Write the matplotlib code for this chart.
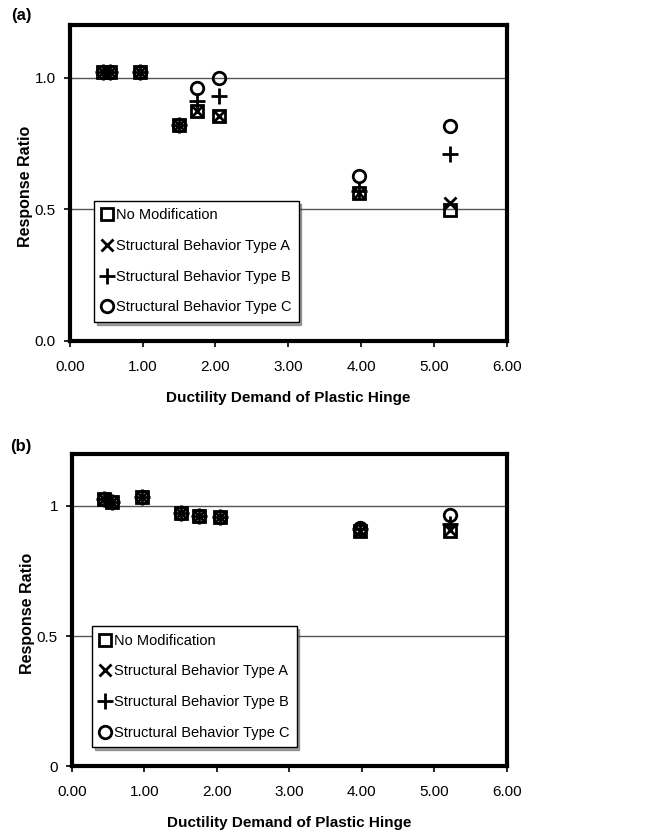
import matplotlib
matplotlib.use('Agg')
import matplotlib.pyplot as plt

plt.rcParams['font.family'] = ['Liberation Sans', 'DejaVu Sans']

# ductility demand at each analysed hinge
ductility = [0.45, 0.55, 0.97, 1.50, 1.75, 2.05, 3.97, 5.22]

# (a) response ratios
a_none = [1.02, 1.02, 1.02, 0.82, 0.875, 0.855, 0.56, 0.495]
a_type_a = [1.02, 1.02, 1.02, 0.82, 0.875, 0.855, 0.56, 0.525]
a_type_b = [1.02, 1.02, 1.02, 0.82, 0.91, 0.93, 0.57, 0.71]
a_type_c = [1.02, 1.02, 1.02, 0.82, 0.96, 1.00, 0.625, 0.815]

# (b) response ratios
b_none = [1.026, 1.017, 1.033, 0.974, 0.963, 0.959, 0.905, 0.903]
b_type_a = [1.026, 1.017, 1.033, 0.974, 0.963, 0.959, 0.905, 0.907]
b_type_b = [1.026, 1.017, 1.033, 0.974, 0.963, 0.959, 0.91, 0.93]
b_type_c = [1.026, 1.017, 1.033, 0.974, 0.963, 0.959, 0.915, 0.965]

labels = ['No Modification', 'Structural Behavior Type A',
          'Structural Behavior Type B', 'Structural Behavior Type C']
markers = ['s', 'x', '+', 'o']
sizes = [9, 9, 11, 9]

x_ticks = [0, 1, 2, 3, 4, 5, 6]
x_ticklabels = ['0.00', '1.00', '2.00', '3.00', '4.00', '5.00', '6.00']
y_ticks = [0, 0.5, 1.0]
a_yticklabels = ['0.0', '0.5', '1.0']
b_yticklabels = ['0', '0.5', '1']

fig = plt.figure(figsize=(6.59, 8.35), dpi=100)
ax_a = fig.add_axes([0.106, 0.592, 0.663, 0.378])
ax_b = fig.add_axes([0.109, 0.0826, 0.660, 0.3737])


def draw(ax, series, yticklabels, leg_x):
    for ys, lab, m, s in zip(series, labels, markers, sizes):
        ax.plot(ductility, ys, ls='none', marker=m, ms=s, mew=2.0,
                mfc='none', mec='black', label=lab, zorder=3)
    ax.set_xlim(0, 6)
    ax.set_ylim(0, 1.2)
    ax.set_xticks(x_ticks)
    ax.set_xticklabels(x_ticklabels)
    ax.set_yticks(y_ticks)
    ax.set_yticklabels(yticklabels)
    ax.tick_params(direction='out', length=4, width=1.2, labelsize=11)
    ax.tick_params(axis='x', pad=10)
    ax.tick_params(axis='y', pad=6)
    for sp in ax.spines.values():
        sp.set_linewidth(3)
    for yv in [0.5, 1.0]:
        ax.axhline(yv, color='#555555', lw=1, zorder=1)
    ax.set_xlabel('Ductility Demand of Plastic Hinge', fontsize=11,
                  fontweight='bold', labelpad=12)
    ax.set_ylabel('Response Ratio', fontsize=11.5, fontweight='bold')
    ax.yaxis.set_label_coords(-0.085, 0.49)
    leg = ax.legend(loc='lower left', bbox_to_anchor=(leg_x, 0.06),
                    borderaxespad=0, fontsize=10.5, handlelength=0.8,
                    handletextpad=0.2, labelspacing=1.15, borderpad=0.5,
                    frameon=True, fancybox=False, shadow=True,
                    edgecolor='black', framealpha=1)
    leg.get_frame().set_linewidth(1)


draw(ax_a, [a_none, a_type_a, a_type_b, a_type_c], a_yticklabels, 0.055)
draw(ax_b, [b_none, b_type_a, b_type_b, b_type_c], b_yticklabels, 0.046)

fig.text(0.032, 0.981, '(a)', ha='center', va='center', fontsize=12,
         fontweight='bold')
fig.text(0.032, 0.465, '(b)', ha='center', va='center', fontsize=12,
         fontweight='bold')

fig.savefig('out.png', dpi=100)
